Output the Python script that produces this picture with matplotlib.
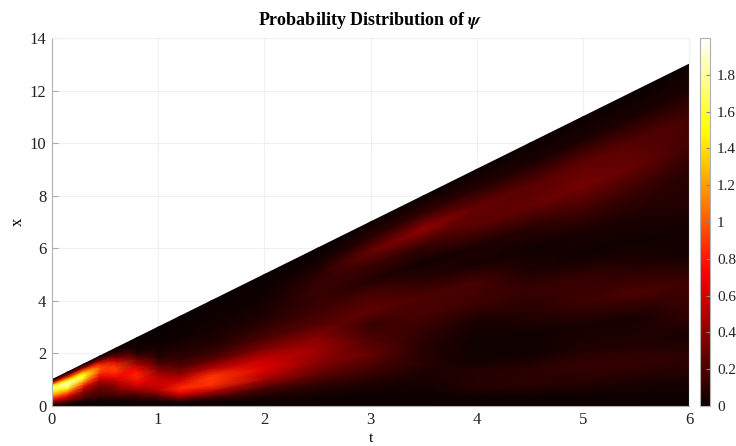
import numpy as np
import matplotlib
matplotlib.use("Agg")
import matplotlib.pyplot as plt

plt.rcParams['font.family'] = ['Liberation Serif', 'DejaVu Serif']
plt.rcParams['mathtext.fontset'] = 'stix'

# sample positions: time, and height as a fraction of the wedge at that time
t_vals = [0, .15, .3, .45, .6, .8, 1, 1.2, 1.5, 2, 2.5, 3, 3.5, 4, 4.5, 5, 5.5, 6]
frac_vals = [0, .04, .08, .14, .2, .28, .36, .44, .52, .6, .68, .76, .84, .92, 1]

# probability, one row per t, one column per fraction
prob = [
    [.05, .1, .2, .35, .6, .85, 1.05, 1.25, 1.35, 1.5, 1.7, 1.5, 1.0, .4, 0],
    [0, .02, .1, .2, .4, .6, .9, 1.2, 1.55, 1.8, 1.85, 1.45, .9, .35, 0],
    [0, .01, .03, .1, .2, .3, .4, .6, .9, 1.25, 1.55, 1.5, 1.05, .4, 0],
    [0, .01, .03, .08, .15, .2, .25, .35, .5, .7, .9, 1.0, .8, .3, 0],
    [0, .01, .03, .1, .2, .3, .4, .55, .75, .9, .9, .65, .3, .08, 0],
    [0, .02, .05, .15, .3, .55, .75, .85, .75, .5, .28, .1, .03, .01, 0],
    [0, .03, .1, .28, .5, .6, .55, .4, .22, .1, .04, .02, .01, 0, 0],
    [0, .05, .25, .65, .85, .6, .38, .22, .13, .08, .05, .02, .01, 0, 0],
    [0, .03, .15, .5, .88, .9, .5, .24, .12, .07, .05, .03, .02, .01, 0],
    [0, .02, .07, .2, .45, .64, .55, .34, .2, .12, .07, .04, .02, .01, 0],
    [0, .01, .04, .12, .25, .38, .45, .36, .22, .16, .14, .14, .1, .03, 0],
    [0, .01, .03, .08, .17, .28, .2, .14, .25, .2, .08, .14, .28, .1, 0],
    [0, .01, .02, .05, .09, .08, .12, .18, .2, .1, .03, .13, .4, .12, 0],
    [0, .02, .08, .08, .02, .02, .05, .16, .18, .04, .06, .24, .28, .08, 0],
    [0, .02, .09, .1, .02, .02, .09, .14, .06, .02, .1, .27, .24, .06, 0],
    [0, .02, .08, .13, .07, .04, .15, .14, .02, .04, .17, .32, .26, .06, 0],
    [0, .02, .06, .13, .07, .04, .2, .08, .02, .06, .14, .27, .22, .06, 0],
    [0, .02, .05, .11, .04, .13, .16, .03, .03, .08, .09, .17, .18, .06, 0],
]

x_ticks = [0, 1, 2, 3, 4, 5, 6]
y_ticks = [0, 2, 4, 6, 8, 10, 12, 14]
cbar_ticks = [0, .2, .4, .6, .8, 1, 1.2, 1.4, 1.6, 1.8]
cbar_labels = ['0', '0.2', '0.4', '0.6', '0.8', '1', '1.2', '1.4', '1.6', '1.8']

W, H = 736, 446
fig = plt.figure(figsize=(W / 100, H / 100), dpi=100)
ax = fig.add_axes([52 / W, 1 - 406 / H, 637 / W, 368 / H])
cax = fig.add_axes([700 / W, 1 - 406 / H, 10 / W, 368 / H])

T, F = np.meshgrid(t_vals, frac_vals, indexing='ij')
X = F * (2 * T + 1)
mesh = ax.pcolormesh(T, X, np.array(prob), shading='gouraud', cmap='hot', vmin=0, vmax=2, zorder=2)

ax.set_xlim(0, 6)
ax.set_ylim(0, 14)
ax.set_xticks(x_ticks)
ax.set_yticks(y_ticks)
ax.grid(True, color='#f0f0f0', lw=0.8, zorder=0)
ax.set_axisbelow(True)
ax.tick_params(direction='in', length=4, width=0.8, color='#aaaaaa', labelsize=12, labelcolor='#222222', pad=4)
ax.set_xlabel('t', fontsize=11, labelpad=3)
ax.set_ylabel('x', fontsize=12, labelpad=3)
ax.set_title(r'Probability Distribution of $\boldsymbol{\psi}$', fontsize=13, fontweight='bold', pad=9)
for s in ax.spines.values():
    s.set_color('#b0b0b0')
ax.spines['top'].set_color('#f0f0f0')
ax.spines['right'].set_color('#f0f0f0')

cb = fig.colorbar(mesh, cax=cax)
cb.set_ticks(cbar_ticks)
cb.set_ticklabels(cbar_labels)
cax.tick_params(direction='in', length=3, width=0.8, color='#888888', labelsize=11, labelcolor='#222222', pad=5)
cb.outline.set_edgecolor('#b0b0b0')

fig.savefig('out.png', dpi=100)
